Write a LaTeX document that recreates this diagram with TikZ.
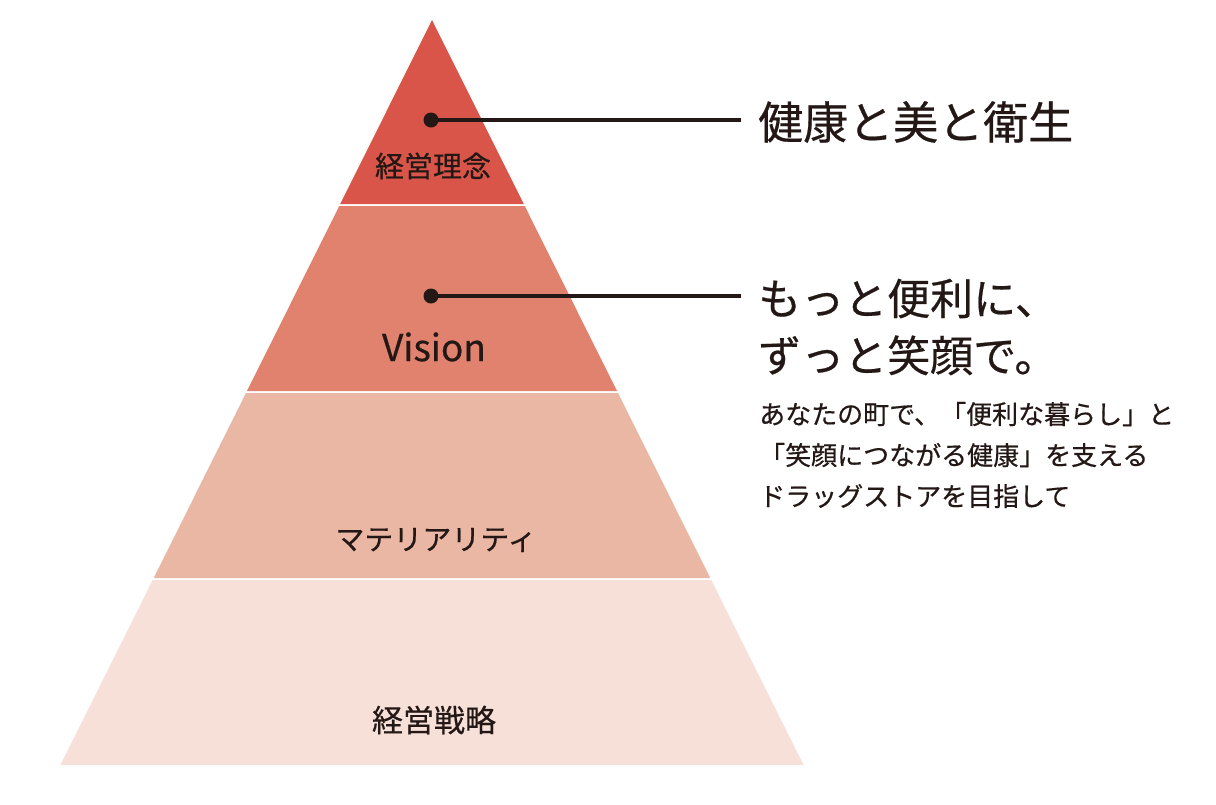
\documentclass[tikz,border=0pt]{standalone}
\usepackage{fontspec}
\setmainfont{Noto Sans CJK JP}[FakeBold=0.5]
\begin{document}
\begin{tikzpicture}[x=1pt,y=-1pt,
  lbl/.style={text=txt,inner sep=0pt},
  dotc/.style={circle,fill=txt,inner sep=0pt,minimum size=15pt},
  conn/.style={draw=txt,line width=3.2pt},
  head/.style={text=txt,inner sep=0pt,anchor=west,align=left}]
\definecolor{txt}{HTML}{231815}
\definecolor{cA}{HTML}{D95549}
\definecolor{cB}{HTML}{E0826E}
\definecolor{cC}{HTML}{EAB7A5}
\definecolor{cD}{HTML}{F7E0D8}
\useasboundingbox (0,0) rectangle (1216,804);
\fill[white] (0,0) rectangle (1216,804);
% pyramid: apex (432,20), base y=765 half width 371.5
\def\k{0.4987}
\fill[cD] (432-745*\k,765) -- (432+745*\k,765) -- (432+560*\k,580) -- (432-560*\k,580) -- cycle;
\fill[cC] (432-558*\k,578) -- (432+558*\k,578) -- (432+373*\k,393) -- (432-373*\k,393) -- cycle;
\fill[cB] (432-371*\k,391) -- (432+371*\k,391) -- (432+186*\k,206) -- (432-186*\k,206) -- cycle;
\fill[cA] (432-184*\k,204) -- (432+184*\k,204) -- (432,20) -- cycle;
% labels
\node[lbl,font=\fontsize{29}{29}\selectfont] (l1) at (433,166) {経営理念};
\node[lbl,font=\fontsize{37}{37}\selectfont] (l2) at (434,347) {Vision};
\node[lbl,font=\fontsize{29}{29}\selectfont] (l3) at (436,540) {マテリアリティ};
\node[lbl,font=\fontsize{31}{31}\selectfont] (l4) at (434,720) {経営戦略};
% dots and connectors
\node[dotc] (d1) at (431,120) {};
\node[dotc] (d2) at (431,296) {};
\coordinate (e1) at (741,120);
\coordinate (e2) at (741,296);
\draw[conn] (d1.center) -- (e1);
\draw[conn] (d2.center) -- (e2);
% right texts
\node[head,font=\fontsize{45}{45}\selectfont] (t1) at (758,122) {健康と美と衛生};
\node[head,font=\fontsize{43}{57}\selectfont] (t2) at (758,327) {もっと便利に、\\ずっと笑顔で。};
\node[head,font=\fontsize{26}{41}\selectfont] (t3) at (759,455) {あなたの町で、「便利な暮らし」と\\「笑顔につながる健康」を支える\\ドラッグストアを目指して};
\end{tikzpicture}
\end{document}
